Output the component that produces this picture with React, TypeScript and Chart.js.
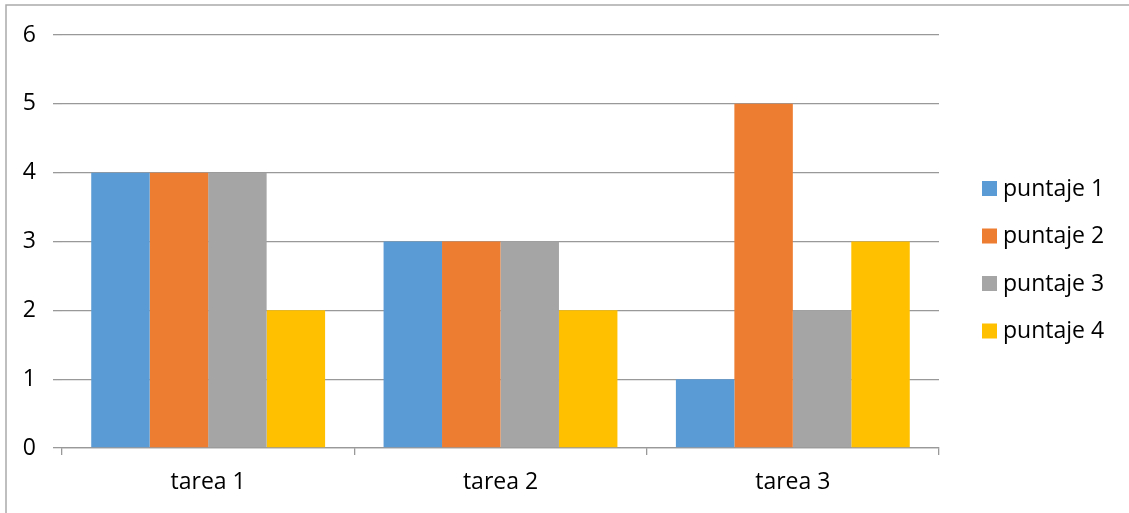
import React, { useEffect, useRef } from "react";
import { Chart, registerables } from "chart.js";

Chart.register(...registerables);

const categories = ["tarea 1", "tarea 2", "tarea 3"];
const seriesLabels = ["puntaje 1", "puntaje 2", "puntaje 3", "puntaje 4"];
const puntaje1 = [4, 3, 1];
const puntaje2 = [4, 3, 5];
const puntaje3 = [4, 3, 2];
const puntaje4 = [2, 2, 3];
const seriesColors = ["#5B9BD5", "#ED7D31", "#A5A5A5", "#FFC000"];
const yTicks = [0, 1, 2, 3, 4, 5, 6];

const FONT = "'Open Sans', 'Liberation Sans', sans-serif";
const GRID = "#999999";

const borderPlugin = {
  id: "outerBorder",
  beforeDraw(chart: any) {
    const ctx = chart.ctx;
    ctx.save();
    ctx.fillStyle = "#ffffff";
    ctx.fillRect(0, 0, chart.width, chart.height);
    ctx.strokeStyle = "#aaaaaa";
    ctx.lineWidth = 1.5;
    ctx.strokeRect(6, 5, chart.width + 50, chart.height + 50);
    ctx.restore();
  },
};

const legendPlugin = {
  id: "sideLegend",
  afterDraw(chart: any) {
    const ctx = chart.ctx;
    ctx.save();
    ctx.font = `23px ${FONT}`;
    ctx.textBaseline = "middle";
    ctx.textAlign = "left";
    chart.data.datasets.forEach((ds: any, i: number) => {
      const cy = 188 + i * 47.5;
      ctx.fillStyle = ds.backgroundColor;
      ctx.fillRect(982, cy - 7, 15, 15);
      ctx.fillStyle = "#000000";
      ctx.fillText(ds.label, 1003, cy + 1);
    });
    ctx.restore();
  },
};

export default function App() {
  const ref = useRef<HTMLCanvasElement | null>(null);

  useEffect(() => {
    document.body.style.margin = "0";
    if (!ref.current) return;
    const data = [puntaje1, puntaje2, puntaje3, puntaje4];
    const chart = new Chart(ref.current, {
      type: "bar",
      data: {
        labels: categories,
        datasets: data.map((d, i) => ({
          label: seriesLabels[i],
          data: d,
          backgroundColor: seriesColors[i],
          borderWidth: 0,
          categoryPercentage: 0.8,
          barPercentage: 1.0,
        })),
      },
      options: {
        animation: false,
        responsive: false,
        maintainAspectRatio: false,
        layout: { padding: { top: 35, right: 190, left: 0, bottom: 0 } },
        plugins: {
          legend: { display: false },
          tooltip: { enabled: false },
        },
        scales: {
          x: {
            afterFit: (axis: any) => {
              axis.height = 65;
            },
            grid: {
              display: true,
              offset: true,
              drawOnChartArea: false,
              drawTicks: true,
              tickLength: 7,
              color: GRID,
              lineWidth: 1.3,
            },
            border: { display: true, color: GRID, width: 1.3 },
            ticks: {
              color: "#000000",
              font: { family: FONT, size: 23 },
              padding: 14,
              maxRotation: 0,
            },
          },
          y: {
            min: 0,
            max: 6,
            afterFit: (axis: any) => {
              axis.width = 62;
            },
            afterBuildTicks: (axis: any) => {
              axis.ticks = yTicks.map((v) => ({ value: v }));
            },
            grid: {
              color: GRID,
              lineWidth: 1.3,
              drawTicks: true,
              tickLength: 9,
            },
            border: { display: false },
            ticks: {
              color: "#000000",
              font: { family: FONT, size: 23 },
              padding: 17,
            },
          },
        },
      },
      plugins: [borderPlugin, legendPlugin],
    });
    return () => chart.destroy();
  }, []);

  return (
    <div style={{ width: 1129, height: 513 }}>
      <canvas ref={ref} width={1129} height={513} style={{ width: 1129, height: 513, display: "block" }} />
    </div>
  );
}
